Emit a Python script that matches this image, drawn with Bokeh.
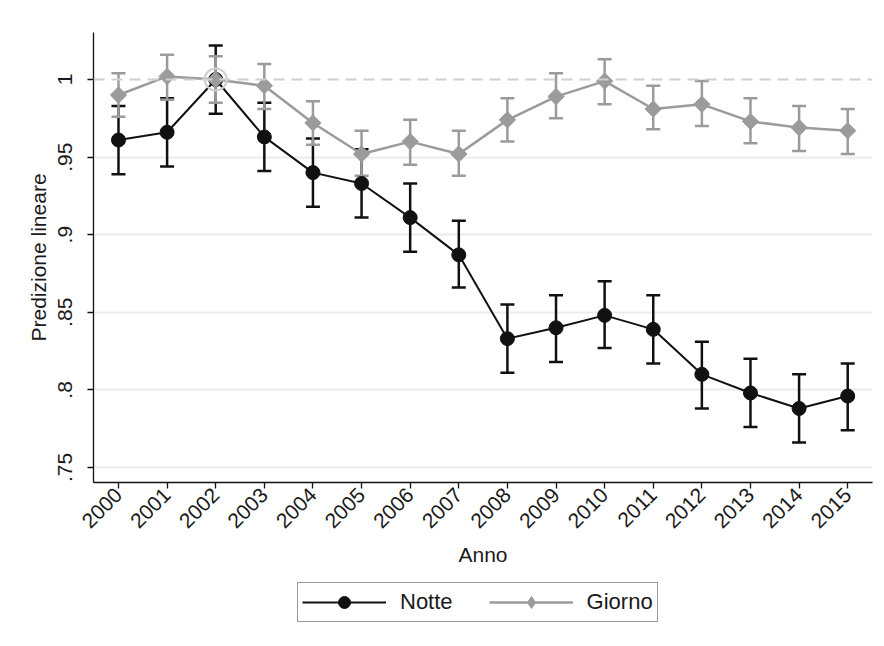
import numpy as np
from bokeh.plotting import figure
from bokeh.layouts import column
from bokeh.models import (ColumnDataSource, Whisker, TeeHead, Span, Legend,
                          LegendItem, FixedTicker, Range1d)
from bokeh.embed import file_html
from bokeh.resources import INLINE

# Linear predictions by year with 95% confidence bounds
anni = [2000, 2001, 2002, 2003, 2004, 2005, 2006, 2007,
        2008, 2009, 2010, 2011, 2012, 2013, 2014, 2015]

notte = [0.961, 0.966, 1.000, 0.963, 0.940, 0.933, 0.911, 0.887,
         0.833, 0.840, 0.848, 0.839, 0.810, 0.798, 0.788, 0.796]
notte_lo = [0.939, 0.944, 0.978, 0.941, 0.918, 0.911, 0.889, 0.866,
            0.811, 0.818, 0.827, 0.817, 0.788, 0.776, 0.766, 0.774]
notte_hi = [0.983, 0.988, 1.022, 0.985, 0.962, 0.955, 0.933, 0.909,
            0.855, 0.861, 0.870, 0.861, 0.831, 0.820, 0.810, 0.817]

giorno = [0.990, 1.002, 1.000, 0.996, 0.972, 0.952, 0.960, 0.952,
          0.974, 0.989, 0.999, 0.981, 0.984, 0.973, 0.969, 0.967]
giorno_lo = [0.976, 0.987, 0.985, 0.981, 0.958, 0.938, 0.945, 0.938,
             0.960, 0.975, 0.984, 0.968, 0.970, 0.959, 0.954, 0.952]
giorno_hi = [1.004, 1.016, 1.015, 1.010, 0.986, 0.967, 0.974, 0.967,
             0.988, 1.004, 1.013, 0.996, 0.999, 0.988, 0.983, 0.981]

# Base year highlighted with a ring
anno_base = [2002]
valore_base = [1.000]

y_ticks = [0.75, 0.8, 0.85, 0.9, 0.95, 1.0]
y_tick_labels = [".75", ".8", ".85", ".9", ".95", "1"]

FONT = "Liberation Sans"
NERO = "#111111"
GRIGIO = "#9b9b9b"
TESTO = "#1a1a1a"

p = figure(width=884, height=572, output_backend="svg", toolbar_location=None,
           x_range=Range1d(1999.486, 2015.51), y_range=Range1d(0.7403, 1.0303),
           min_border_left=93, min_border_right=12, min_border_top=32,
           min_border_bottom=90)
p.outline_line_color = None
p.background_fill_color = "white"
p.border_fill_color = "white"

# Grid
p.xgrid.visible = False
p.ygrid.ticker = FixedTicker(ticks=y_ticks[:-1])
p.ygrid.grid_line_color = "#ebebeb"
p.ygrid.grid_line_width = 2

# Reference line at 1
p.add_layout(Span(location=1.0, dimension="width", line_color="#cfcfcf",
                  line_width=2, line_dash="11 7"))

# Axes
p.xaxis.ticker = FixedTicker(ticks=anni)
p.xaxis.major_label_overrides = {a: str(a) for a in anni}
p.xaxis.major_label_orientation = np.pi / 4
p.yaxis.ticker = FixedTicker(ticks=y_ticks)
p.yaxis.major_label_overrides = dict(zip(y_ticks, y_tick_labels))
p.yaxis.major_label_orientation = "vertical"
for ax in (p.xaxis[0], p.yaxis[0]):
    ax.axis_line_color = NERO
    ax.axis_line_width = 1.3
    ax.major_tick_line_color = NERO
    ax.major_tick_line_width = 1.3
    ax.major_tick_out = 6
    ax.major_tick_in = 0
    ax.minor_tick_line_color = None
    ax.major_label_text_font = FONT
    ax.major_label_text_font_size = "21px"
    ax.major_label_text_color = TESTO
    ax.axis_label_text_font = FONT
    ax.axis_label_text_font_size = "21px"
    ax.axis_label_text_font_style = "normal"
    ax.axis_label_text_color = TESTO
p.xaxis.axis_label = "Anno"
p.yaxis.axis_label = "Predizione lineare"
p.xaxis.major_label_standoff = 3
p.xaxis.axis_label_standoff = 6
p.yaxis.major_label_standoff = 15
p.yaxis.axis_label_standoff = 6

src_n = ColumnDataSource(dict(x=anni, y=notte, lo=notte_lo, hi=notte_hi))
src_g = ColumnDataSource(dict(x=anni, y=giorno, lo=giorno_lo, hi=giorno_hi))

# Notte: error bars, line, markers
p.add_layout(Whisker(source=src_n, base="x", lower="lo", upper="hi",
                     line_color=NERO, line_width=2.5,
                     upper_head=TeeHead(size=14, line_color=NERO, line_width=2.5),
                     lower_head=TeeHead(size=14, line_color=NERO, line_width=2.5)))
p.line("x", "y", source=src_n, line_color=NERO, line_width=2)
p.scatter("x", "y", source=src_n, marker="circle", size=14,
          fill_color=NERO, line_color=NERO)

# Giorno: error bars, line, markers
p.add_layout(Whisker(source=src_g, base="x", lower="lo", upper="hi",
                     line_color=GRIGIO, line_width=2.5,
                     upper_head=TeeHead(size=14, line_color=GRIGIO, line_width=2.5),
                     lower_head=TeeHead(size=14, line_color=GRIGIO, line_width=2.5)))
p.line("x", "y", source=src_g, line_color=GRIGIO, line_width=2.5)
p.scatter("x", "y", source=src_g, marker="square", angle=np.pi / 4,
          size=11.5, fill_color=GRIGIO, line_color=GRIGIO)

# Ring marking the base year
p.scatter(anno_base, valore_base, marker="circle", size=22, fill_color=None,
          line_color="#cfcfcf", line_width=2.2)

# Legend strip below the chart (its frame lines up with the chart's frame);
# the key renderers hold no drawable points
leg = figure(width=884, height=74, output_backend="svg", toolbar_location=None,
             x_range=Range1d(0, 1), y_range=Range1d(0, 1),
             x_axis_location=None, y_axis_location=None,
             min_border=0, min_border_left=93, min_border_right=12,
             min_border_top=0, min_border_bottom=0)
leg.grid.visible = False
leg.outline_line_color = None
leg.border_fill_color = "white"
leg.background_fill_color = "white"


def chiave():
    return ColumnDataSource(dict(x=[np.nan], y=[np.nan]))


k_ln_n = leg.line("x", "y", source=chiave(), line_color=NERO, line_width=2)
k_mk_n = leg.scatter("x", "y", source=chiave(), marker="circle",
                     fill_color=NERO, line_color=NERO)
k_ln_g = leg.line("x", "y", source=chiave(), line_color=GRIGIO, line_width=2.5)
k_mk_g = leg.scatter("x", "y", source=chiave(), marker="diamond",
                     fill_color=GRIGIO, line_color=GRIGIO)

legend = Legend(items=[LegendItem(label="Notte", renderers=[k_ln_n, k_mk_n]),
                       LegendItem(label="Giorno", renderers=[k_ln_g, k_mk_g])],
                orientation="horizontal", location=(204, 24),
                glyph_width=84, glyph_height=30, label_standoff=14,
                spacing=36, padding=4, margin=0,
                label_text_font=FONT, label_text_font_size="22px",
                label_text_color=TESTO,
                border_line_color="#333333", border_line_width=1.2,
                background_fill_color="white", background_fill_alpha=1)
leg.add_layout(legend, "center")

layout = column(p, leg, spacing=0)
open("out.html", "w").write(file_html(layout, INLINE))
